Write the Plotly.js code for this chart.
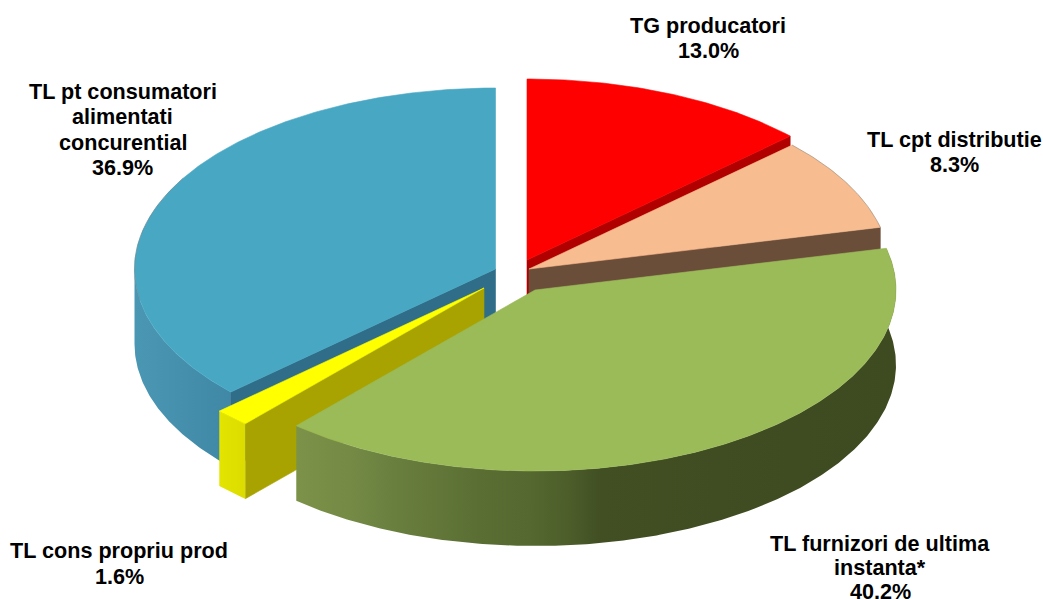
<!DOCTYPE html>
<html><head><meta charset="utf-8">
<script src="https://cdn.plot.ly/plotly-3.0.1.min.js"></script>
<style>html,body{margin:0;padding:0;background:#fff;overflow:hidden}#chart{width:1043px;height:599px}</style>
</head><body><div id="chart"></div>
<script>
// ---- data ----
const categories = ["TG producatori","TL cpt distributie","TL furnizori de ultima<br>instanta*","TL cons propriu prod","TL pt consumatori<br>alimentati<br>concurential"];
const values = [13.0, 8.3, 40.2, 1.6, 36.9];

// ---- drawing parameters ----
const RX = 361, RY = 181, DEPTH = 75;
const centers = [[527,260],[529,269],[535,290],[484,288],[495.5,269]];
const topColors = ["#ff0000","#f7bd90","#9bbb59","#ffff00","#48a8c4"];
const faceColors = ["#b00000","#6b4e3a",null,"#a8a300","#2f6d88"];
const labelPos = [[708,33],[954,147],[880,551],[119,558.5],[122.5,99]];
const lineSteps = [25.4,25.4,23.8,25.4,25.4];
const FONT_SIZE = 21.6;
const greenWall = [[296,"#7c9249"],[350,"#748a45"],[390,"#6a803f"],[430,"#637839"],[480,"#5a6e34"],[530,"#55682f"],[570,"#4c5d2a"],[600,"#414f23"],[897,"#3e4a20"]];
const blueWall = [[134,"#4a97b4"],[230,"#4088a5"]];
const yellowWall = [[219,"#e4e400"],[245,"#dcdc00"]];

const rad = d => d*Math.PI/180;
// slice angles from the values
const angles=[];let acc=0;
values.forEach(v=>{const s=acc*3.6;acc+=v;angles.push([s,acc*3.6]);});
const px=(c,t)=>c[0]+RX*Math.sin(rad(t));
const py=(c,t,d)=>c[1]-RY*Math.cos(rad(t))+(d||0);

const traces=[];
function poly(xs,ys,color,name,extra){
  traces.push(Object.assign({type:"scatter",mode:"lines",x:xs,y:ys,fill:"toself",fillcolor:color,
    line:{color:color,width:0.6},name:name,hoverinfo:"skip",showlegend:false},extra||{}));
}
function topFace(i){
  const c=centers[i],[a,b]=angles[i],xs=[c[0]],ys=[c[1]];
  const n=Math.max(4,Math.round((b-a)*2));
  for(let k=0;k<=n;k++){const t=a+(b-a)*k/n;xs.push(px(c,t));ys.push(py(c,t));}
  xs.push(c[0]);ys.push(c[1]);
  poly(xs,ys,topColors[i],categories[i]);
}
function radial(i,t){
  const c=centers[i];
  poly([c[0],px(c,t),px(c,t),c[0],c[0]],[c[1],py(c,t),py(c,t,DEPTH),c[1]+DEPTH,c[1]],faceColors[i],categories[i]);
}
function wall(i,t0,t1,stops){
  const c=centers[i],xs=[],ys=[],n=Math.max(4,Math.round((t1-t0)*2));
  for(let k=0;k<=n;k++){const t=t0+(t1-t0)*k/n;xs.push(px(c,t));ys.push(py(c,t));}
  for(let k=n;k>=0;k--){const t=t0+(t1-t0)*k/n;xs.push(px(c,t));ys.push(py(c,t,DEPTH));}
  xs.push(xs[0]);ys.push(ys[0]);
  const x0=stops[0][0],x1=stops[stops.length-1][0];
  poly(xs,ys,stops[0][1],categories[i],{
    line:{width:0,color:"rgba(0,0,0,0)"},
    fillgradient:{type:"horizontal",start:x0,stop:x1,colorscale:stops.map(s=>[(s[0]-x0)/(x1-x0),s[1]])}
  });
}
function rim(i,t0,t1){
  const c=centers[i],xs=[],ys=[],n=Math.round((t1-t0)*2);
  for(let k=0;k<=n;k++){const t=t0+(t1-t0)*k/n;xs.push(px(c,t));ys.push(py(c,t));}
  traces.push({type:"scatter",mode:"lines",x:xs,y:ys,line:{color:"rgba(120,120,120,0.45)",width:1},hoverinfo:"skip",showlegend:false});
}
// blue
wall(4,angles[4][0],270,blueWall);
radial(4,angles[4][0]);
topFace(4);
rim(4,260,300);
// red
radial(0,angles[0][1]);
topFace(0);
// peach
radial(1,angles[1][1]);
topFace(1);
rim(1,angles[1][0],angles[1][1]);
// yellow
radial(3,angles[3][0]);
wall(3,angles[3][0],angles[3][1],yellowWall);
topFace(3);
// green
wall(2,angles[2][0],angles[2][1],greenWall);
topFace(2);

// labels, one annotation per line so that the reference line pitch is kept
const annotations=[];
categories.forEach((c,i)=>{
  const lines=c.split("<br>").concat(values[i].toFixed(1)+"%");
  lines.forEach((ln,k)=>annotations.push({
    x:labelPos[i][0],y:labelPos[i][1]+k*lineSteps[i]-0.35*FONT_SIZE,xref:"x",yref:"y",
    xanchor:"center",yanchor:"middle",align:"center",showarrow:false,
    text:"<b>"+ln+"</b>",
    font:{family:"Liberation Sans, Arial, sans-serif",size:FONT_SIZE,color:"#000"}
  }));
});
Plotly.newPlot("chart",traces,{
  width:1043,height:599,margin:{l:0,r:0,t:0,b:0},paper_bgcolor:"#fff",plot_bgcolor:"#fff",showlegend:false,
  xaxis:{range:[0,1043],visible:false,fixedrange:true},
  yaxis:{range:[599,0],visible:false,fixedrange:true},
  annotations:annotations
},{displayModeBar:false,staticPlot:true});
</script></body></html>
